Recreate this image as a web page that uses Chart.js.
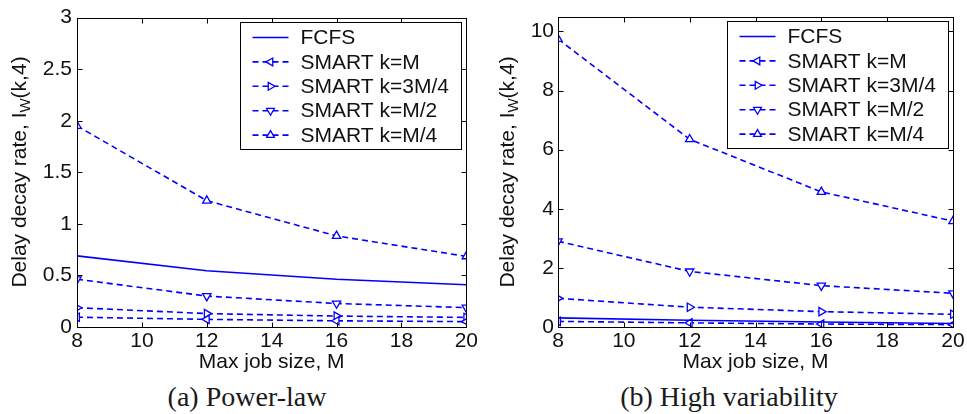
<!DOCTYPE html>
<html>
<head>
<meta charset="utf-8">
<script src="https://cdn.jsdelivr.net/npm/chart.js@4"></script>
<style>
body { margin: 0; background: #fff; width: 967px; height: 414px; position: relative; overflow: hidden; }
.panel { position: absolute; top: 0; }
.cap { position: absolute; top: 382px; line-height: 30px; font-family: "Liberation Serif", "DejaVu Serif", serif; font-size: 28px; color: #1a1a1a; text-align: center; white-space: nowrap; }
</style>
</head>
<body>
<div class="panel" style="left:0"><canvas id="c1" width="480" height="380"></canvas></div>
<div class="panel" style="left:480px"><canvas id="c2" width="487" height="380"></canvas></div>
<div class="cap" style="left:97px;width:300px">(a) Power-law</div>
<div class="cap" style="left:579px;width:300px">(b) High variability</div>
<script>
// max job size M on the x axis
const jobSizes = [8, 12, 16, 20];
const seriesNames = ['FCFS', 'SMART k=M', 'SMART k=3M/4', 'SMART k=M/2', 'SMART k=M/4'];
const markerAngles = [null, -90, 90, 180, 0];

// (a) power-law
const powFCFS = [0.69, 0.545, 0.463, 0.41];
const powKM = [0.095, 0.074, 0.060, 0.052];
const powK3M4 = [0.187, 0.13, 0.106, 0.093];
const powKM2 = [0.463, 0.300, 0.228, 0.188];
const powKM4 = [1.95, 1.225, 0.883, 0.685];

// (b) high variability
const hvFCFS = [0.31, 0.23, 0.17, 0.12];
const hvKM = [0.19, 0.14, 0.10, 0.08];
const hvK3M4 = [0.97, 0.67, 0.52, 0.43];
const hvKM2 = [2.90, 1.88, 1.40, 1.14];
const hvKM4 = [9.74, 6.35, 4.57, 3.58];

const yTicksA = [0, 0.5, 1, 1.5, 2, 2.5, 3];
const yTicksB = [0, 2, 4, 6, 8, 10];
const xTicks = [8, 10, 12, 14, 16, 18, 20];

const blue = '#0000ff';
const sans = '"Liberation Sans", Arial, sans-serif';

function makeDatasets(series) {
    return series.map((vals, i) => {
        const solid = markerAngles[i] === null;
        return {
            label: seriesNames[i],
            data: vals.map((v, j) => ({x: jobSizes[j], y: v})),
            borderColor: blue,
            borderWidth: 1.6,
            borderDash: solid ? [] : [6, 4],
            pointStyle: 'triangle',
            pointRotation: solid ? 0 : markerAngles[i],
            pointRadius: solid ? 0 : 4.8,
            pointBorderWidth: 1.3,
            pointBorderColor: blue,
            pointBackgroundColor: '#fff',
            fill: false,
            tension: 0
        };
    });
}

// box, inward ticks, y label with subscript and the legend
const matlabLook = {
    id: 'matlabLook',
    afterDraw(chart, args, opts) {
        const {ctx, chartArea: a, scales} = chart;
        const L = Math.round(a.left) + 0.5, R = Math.round(a.right) + 0.5;
        const T = Math.round(a.top) + 0.5, B = Math.round(a.bottom) + 0.5;
        ctx.save();
        ctx.strokeStyle = '#000';
        ctx.lineWidth = 1;
        ctx.setLineDash([]);
        ctx.strokeRect(L, T, R - L, B - T);
        ctx.beginPath();
        xTicks.forEach(v => {
            const p = Math.round(scales.x.getPixelForValue(v)) + 0.5;
            ctx.moveTo(p, B); ctx.lineTo(p, B - 5);
            ctx.moveTo(p, T); ctx.lineTo(p, T + 5);
        });
        opts.yTicks.forEach(v => {
            const p = Math.round(scales.y.getPixelForValue(v)) + 0.5;
            ctx.moveTo(L, p); ctx.lineTo(L + 5, p);
            ctx.moveTo(R, p); ctx.lineTo(R - 5, p);
        });
        ctx.stroke();

        // y title: Delay decay rate, I_W(k,4)
        const big = '21px ' + sans, small = '15px ' + sans;
        ctx.font = big;
        const p1 = 'Delay decay rate, I', p3 = '(k,4)';
        const w1 = ctx.measureText(p1).width, w3 = ctx.measureText(p3).width;
        ctx.font = small;
        const w2 = ctx.measureText('W').width;
        const total = w1 + w2 + w3;
        ctx.translate(opts.titleX, 172);
        ctx.rotate(-Math.PI / 2);
        ctx.fillStyle = '#111';
        ctx.textBaseline = 'middle';
        ctx.textAlign = 'left';
        let x0 = -total / 2;
        ctx.font = big;
        ctx.fillText(p1, x0, 0);
        ctx.font = small;
        ctx.fillText('W', x0 + w1, 6);
        ctx.font = big;
        ctx.fillText(p3, x0 + w1 + w2, 0);
        ctx.setTransform(1, 0, 0, 1, 0, 0);

        // legend
        const bw = 221, bh = 127;
        const bx = Math.round(a.right - 5 - bw) + 0.5, by = Math.round(a.top + 4) + 0.5;
        ctx.fillStyle = '#fff';
        ctx.fillRect(bx, by, bw, bh);
        ctx.strokeStyle = '#000';
        ctx.lineWidth = 1;
        ctx.strokeRect(bx, by, bw, bh);
        chart.data.datasets.forEach((ds, i) => {
            const y = by + 15 + i * 24.4;
            ctx.strokeStyle = blue;
            ctx.lineWidth = 1.6;
            ctx.setLineDash(ds.borderDash);
            ctx.beginPath();
            ctx.moveTo(bx + 12, y);
            ctx.lineTo(bx + 48, y);
            ctx.stroke();
            ctx.setLineDash([]);
            if (ds.pointRadius > 0) {
                ctx.fillStyle = '#fff';
                ctx.strokeStyle = blue;
                ctx.lineWidth = 1.3;
                Chart.helpers.drawPoint(ctx, {pointStyle: 'triangle', rotation: ds.pointRotation, radius: 4.5, borderWidth: 1.3}, bx + 30, y);
            }
            ctx.fillStyle = '#111';
            ctx.font = big;
            ctx.textAlign = 'left';
            ctx.textBaseline = 'middle';
            ctx.fillText(ds.label, bx + 60, y + 1);
        });
        ctx.restore();
    }
};

function buildChart(id, series, yMax, yTicks, yWidth, padRight, tickPad, titleX) {
    const ctx = document.getElementById(id).getContext('2d');
    return new Chart(ctx, {
        type: 'line',
        data: {datasets: makeDatasets(series)},
        options: {
            responsive: false,
            animation: false,
            layout: {padding: {left: 0, right: padRight, top: 15, bottom: 0}},
            plugins: {
                legend: {display: false},
                tooltip: {enabled: false},
                matlabLook: {yTicks: yTicks, titleX: titleX}
            },
            scales: {
                x: {
                    type: 'linear',
                    min: 8,
                    max: 20,
                    grid: {display: false, drawTicks: false},
                    border: {display: false},
                    ticks: {padding: 2, color: '#111', font: {family: sans, size: 21}, maxRotation: 0},
                    afterBuildTicks: s => { s.ticks = xTicks.map(v => ({value: v})); },
                    title: {display: true, text: 'Max job size, M', color: '#111', font: {family: sans, size: 21}, padding: {top: 0, bottom: 5}},
                    afterFit: s => { s.height = 53; }
                },
                y: {
                    min: 0,
                    max: yMax,
                    grid: {display: false, drawTicks: false},
                    border: {display: false},
                    ticks: {padding: tickPad, color: '#111', font: {family: sans, size: 21}, callback: v => String(v)},
                    afterBuildTicks: s => { s.ticks = yTicks.map(v => ({value: v})); },
                    afterFit: s => { s.width = yWidth; }
                }
            }
        },
        plugins: [matlabLook]
    });
}

buildChart('c1', [powFCFS, powKM, powK3M4, powKM2, powKM4], 3, yTicksA, 77, 9, 5, 20);
buildChart('c2', [hvFCFS, hvKM, hvK3M4, hvKM2, hvKM4], 10.5, yTicksB, 78, 14, 4, 28);
</script>
</body>
</html>
